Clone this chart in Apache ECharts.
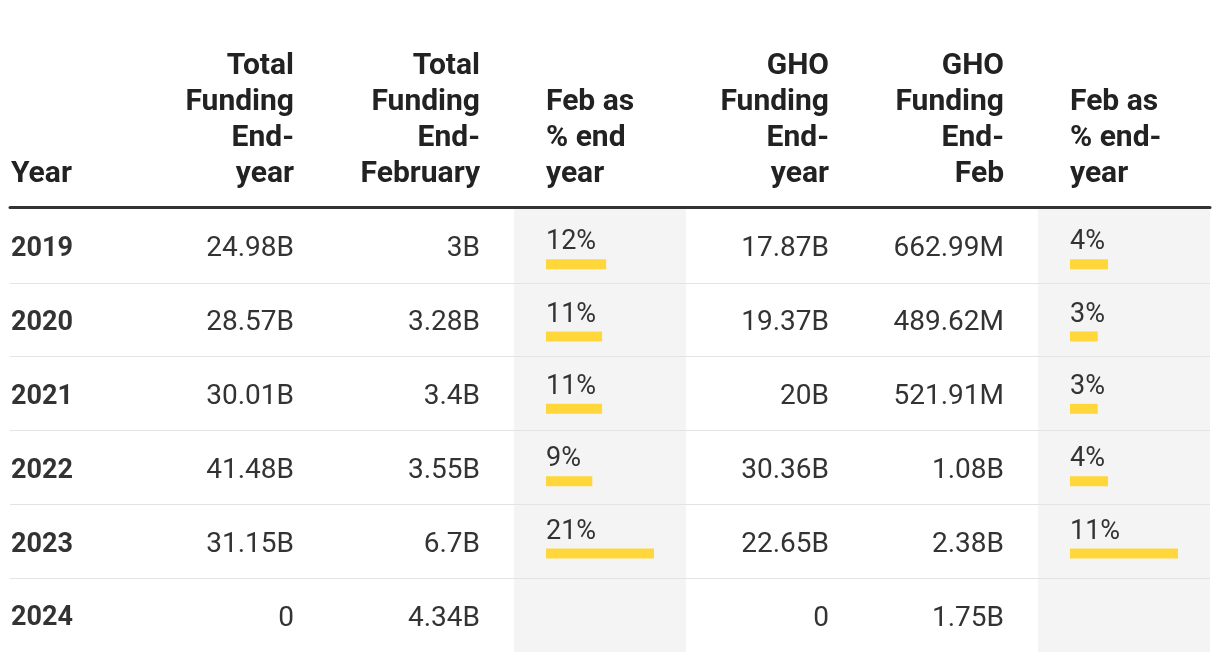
<!DOCTYPE html>
<html><head><meta charset="utf-8">
<script src="https://cdn.jsdelivr.net/npm/echarts@6/dist/echarts.min.js"></script>
<style>html,body{margin:0;padding:0;background:#fff}#c{width:1220px;height:662px}</style>
</head><body><div id="c"></div>
<script>
// ---- data ----
const years = ['2019', '2020', '2021', '2022', '2023', '2024'];
const totalEndYear = [24.98, 28.57, 30.01, 41.48, 31.15, 0];        // billions
const totalEndFeb = [3, 3.28, 3.4, 3.55, 6.7, 4.34];                // billions
const febPctTotal = [11.7, 10.9, 10.9, 9, 21, null];                // %
const ghoEndYear = [17.87, 19.37, 20, 30.36, 22.65, 0];             // billions
const ghoEndFeb = [0.66299, 0.48962, 0.52191, 1.08, 2.38, 1.75];    // billions
const febPctGho = [3.7, 2.7, 2.7, 3.7, 10.5, null];                 // %
const headerTexts = [
  'Year',
  'Total\nFunding\nEnd-\nyear',
  'Total\nFunding\nEnd-\nFebruary',
  'Feb as\n% end\nyear',
  'GHO\nFunding\nEnd-\nyear',
  'GHO\nFunding\nEnd-\nFeb',
  'Feb as\n% end-\nyear'
];

// ---- formatting ----
function fmt(v) {
  if (v === 0) return '0';
  if (v < 1) return String(Number((v * 1000).toFixed(2))) + 'M';
  return String(Number(v.toFixed(2))) + 'B';
}

// ---- layout ----
const TOP = 209, H = 443, BAR_SHIFT = 19, TXT_SHIFT = 3.5;
const FONT = 'Roboto';
const TXT = '#333';
const SHADE = '#f4f4f4';
const LINE = '#e3e3e3';
const YELLOW = '#ffd73b';

const grids = [
  { left: 10, width: 1200, top: TOP, height: H },                       // 0 main (lines)
  { left: 120, width: 174, top: TOP + TXT_SHIFT, height: H },           // 1 total end-year
  { left: 300, width: 180, top: TOP + TXT_SHIFT, height: H },           // 2 total end-feb
  { left: 514, width: 172, top: TOP, height: H, show: true, backgroundColor: SHADE, borderWidth: 0 }, // 3 shade
  { left: 546, width: 108, top: TOP + BAR_SHIFT, height: H },           // 4 bars
  { left: 690, width: 139, top: TOP + TXT_SHIFT, height: H },           // 5 gho end-year
  { left: 840, width: 164, top: TOP + TXT_SHIFT, height: H },           // 6 gho end-feb
  { left: 1038, width: 172, top: TOP, height: H, show: true, backgroundColor: SHADE, borderWidth: 0 }, // 7 shade
  { left: 1070, width: 108, top: TOP + BAR_SHIFT, height: H },          // 8 bars
  { left: 10, width: 100, top: TOP + TXT_SHIFT, height: H }             // 9 year text
];

const hiddenX = (i) => ({ type: 'value', gridIndex: i, show: false, min: 0, max: 1 });
const xAxes = grids.map((g, i) => hiddenX(i));
xAxes[0] = {
  type: 'value', gridIndex: 0, position: 'top', offset: 1.5, min: 0, max: 1,
  axisLine: { show: true, lineStyle: { color: '#333', width: 3 } },
  axisTick: { show: false }, axisLabel: { show: false }, splitLine: { show: false }
};
xAxes[4] = { type: 'value', gridIndex: 4, show: false, min: 0, max: 'dataMax' };
xAxes[8] = { type: 'value', gridIndex: 8, show: false, min: 0, max: 'dataMax' };

const split = { show: true, showMinLine: false, showMaxLine: false, lineStyle: { color: LINE, width: 1 } };
function textAxis(i, data, pos, bold) {
  return {
    type: 'category', gridIndex: i, data: data, inverse: true, position: pos,
    axisLine: { show: false }, axisTick: { show: false },
    axisLabel: { show: true, inside: true, margin: pos === 'left' ? 1 : 0, interval: 0,
      fontFamily: FONT, fontSize: bold ? 27 : 28, color: TXT, fontWeight: bold ? 'bold' : 'normal' },
    splitLine: { show: false }
  };
}
function lineAxis(i) {
  return { type: 'category', gridIndex: i, data: years, inverse: true,
    axisLine: { show: false }, axisTick: { show: false }, axisLabel: { show: false }, splitLine: split };
}
const yAxes = [
  lineAxis(0),
  textAxis(1, totalEndYear.map(fmt), 'right'),
  textAxis(2, totalEndFeb.map(fmt), 'right'),
  lineAxis(3),
  { type: 'category', gridIndex: 4, data: years, inverse: true, show: false },
  textAxis(5, ghoEndYear.map(fmt), 'right'),
  textAxis(6, ghoEndFeb.map(fmt), 'right'),
  lineAxis(7),
  { type: 'category', gridIndex: 8, data: years, inverse: true, show: false },
  textAxis(9, years, 'left', true)
];

const barLabel = {
  show: true, position: [0, -3], align: 'left', verticalAlign: 'bottom',
  formatter: (p) => Math.round(p.value) + '%',
  fontFamily: FONT, fontSize: 27, color: TXT
};
const series = [
  { type: 'bar', xAxisIndex: 4, yAxisIndex: 4, data: febPctTotal, barWidth: 10,
    itemStyle: { color: YELLOW }, label: barLabel, silent: true },
  { type: 'bar', xAxisIndex: 8, yAxisIndex: 8, data: febPctGho, barWidth: 10,
    itemStyle: { color: YELLOW }, label: barLabel, silent: true }
];

const headerAnchors = [
  { x: 11, align: 'left' }, { x: 294, align: 'right' }, { x: 480, align: 'right' },
  { x: 546, align: 'left' }, { x: 829, align: 'right' }, { x: 1004, align: 'right' },
  { x: 1070, align: 'left' }
];
const titles = headerAnchors.map((a, i) => ({
  text: headerTexts[i], left: a.x, top: 192, padding: 0,
  textAlign: a.align, textVerticalAlign: 'bottom',
  textStyle: { fontFamily: FONT, fontSize: 30, fontWeight: 'bold', lineHeight: 36, color: '#222' }
}));

const chart = echarts.init(document.getElementById('c'), null, { renderer: 'canvas' });
chart.setOption({
  animation: false,
  backgroundColor: '#fff',
  title: titles,
  grid: grids,
  xAxis: xAxes,
  yAxis: yAxes,
  series: series
});
</script></body></html>
